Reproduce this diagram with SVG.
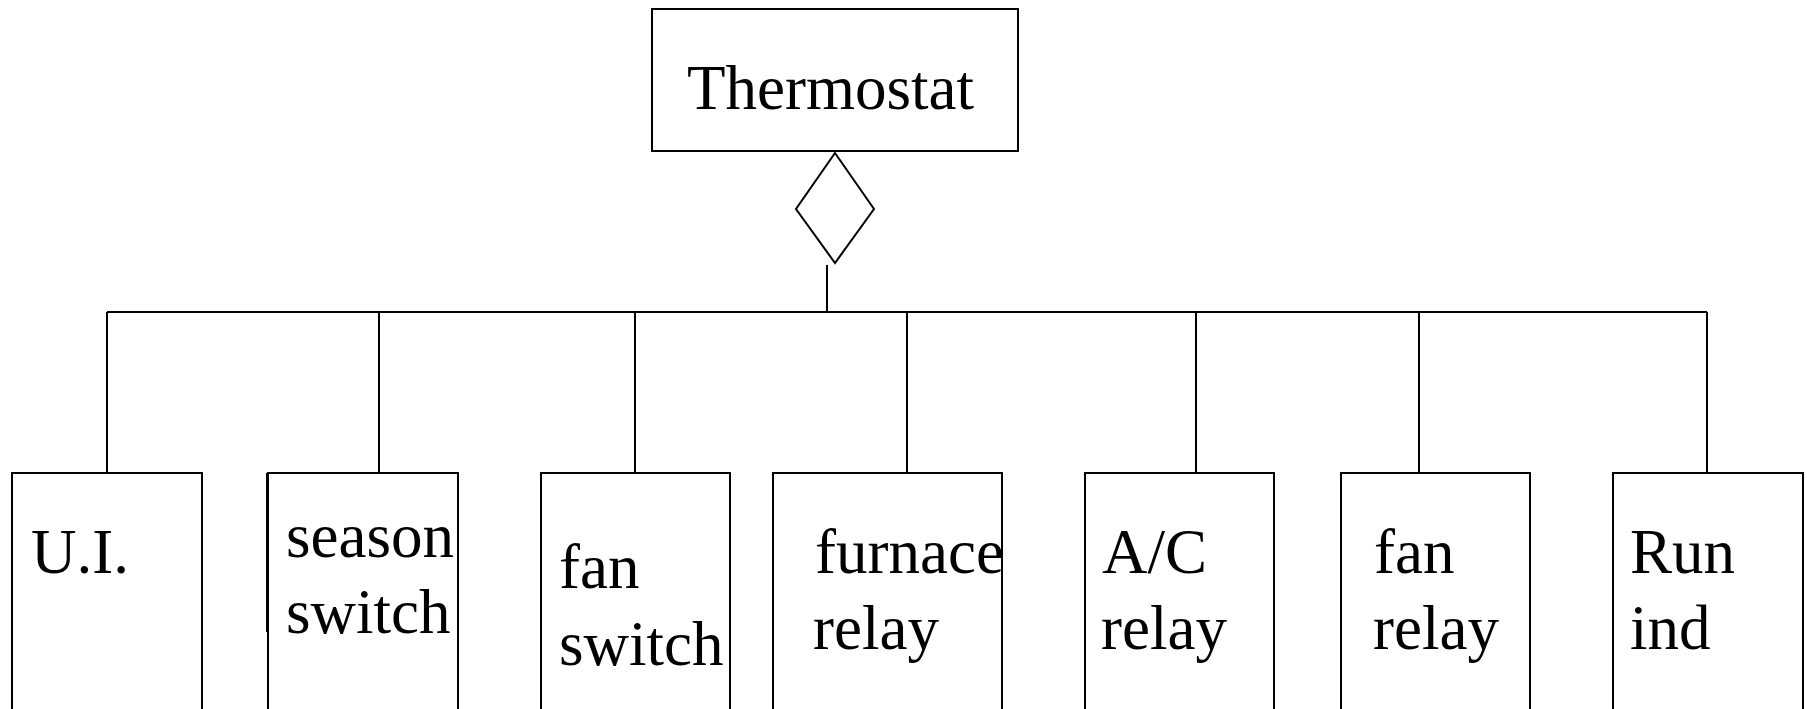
<svg xmlns="http://www.w3.org/2000/svg" width="1807" height="709" viewBox="0 0 1807 709">
<style>
.box{fill:#fff;stroke:#000;stroke-width:2}
.ln{fill:none;stroke:#000;stroke-width:2}
text{font-family:"Liberation Serif","Times New Roman",serif;font-size:63px;fill:#000}
</style>
<rect width="1807" height="709" fill="#fff"/>
<g id="connectors">
<polygon class="ln" points="835,153 874,209 835,263 796,209"/>
<line class="ln" x1="827" y1="265" x2="827" y2="312"/>
<line class="ln" x1="107" y1="312" x2="1707" y2="312"/>
<line class="ln" x1="107" y1="312" x2="107" y2="473"/>
<line class="ln" x1="379" y1="312" x2="379" y2="473"/>
<line class="ln" x1="635" y1="312" x2="635" y2="473"/>
<line class="ln" x1="907" y1="312" x2="907" y2="473"/>
<line class="ln" x1="1196" y1="312" x2="1196" y2="473"/>
<line class="ln" x1="1419" y1="312" x2="1419" y2="473"/>
<line class="ln" x1="1707" y1="312" x2="1707" y2="473"/>
</g>
<g id="thermostat">
<rect class="box" x="652" y="9" width="366" height="142"/>
<text x="687" y="109">Thermostat</text>
</g>
<g id="ui">
<rect class="box" x="12" y="473" width="190" height="260"/>
<text x="31" y="573">U.I.</text>
</g>
<g id="season-switch">
<line class="ln" x1="267" y1="473" x2="267" y2="632"/>
<rect class="box" x="268" y="473" width="190" height="260"/>
<text x="286" y="557">season</text>
<text x="286" y="633">switch</text>
</g>
<g id="fan-switch">
<rect class="box" x="541" y="473" width="189" height="260"/>
<text x="559" y="588">fan</text>
<text x="559" y="665">switch</text>
</g>
<g id="furnace-relay">
<rect class="box" x="773" y="473" width="229" height="260"/>
<text x="815" y="573">furnace</text>
<text x="813" y="649">relay</text>
</g>
<g id="ac-relay">
<rect class="box" x="1085" y="473" width="189" height="260"/>
<text x="1102" y="573">A/C</text>
<text x="1101" y="649">relay</text>
</g>
<g id="fan-relay">
<rect class="box" x="1341" y="473" width="189" height="260"/>
<text x="1374" y="573">fan</text>
<text x="1373" y="649">relay</text>
</g>
<g id="run-ind">
<rect class="box" x="1613" y="473" width="190" height="260"/>
<text x="1630" y="573">Run</text>
<text x="1630" y="649">ind</text>
</g>
</svg>
